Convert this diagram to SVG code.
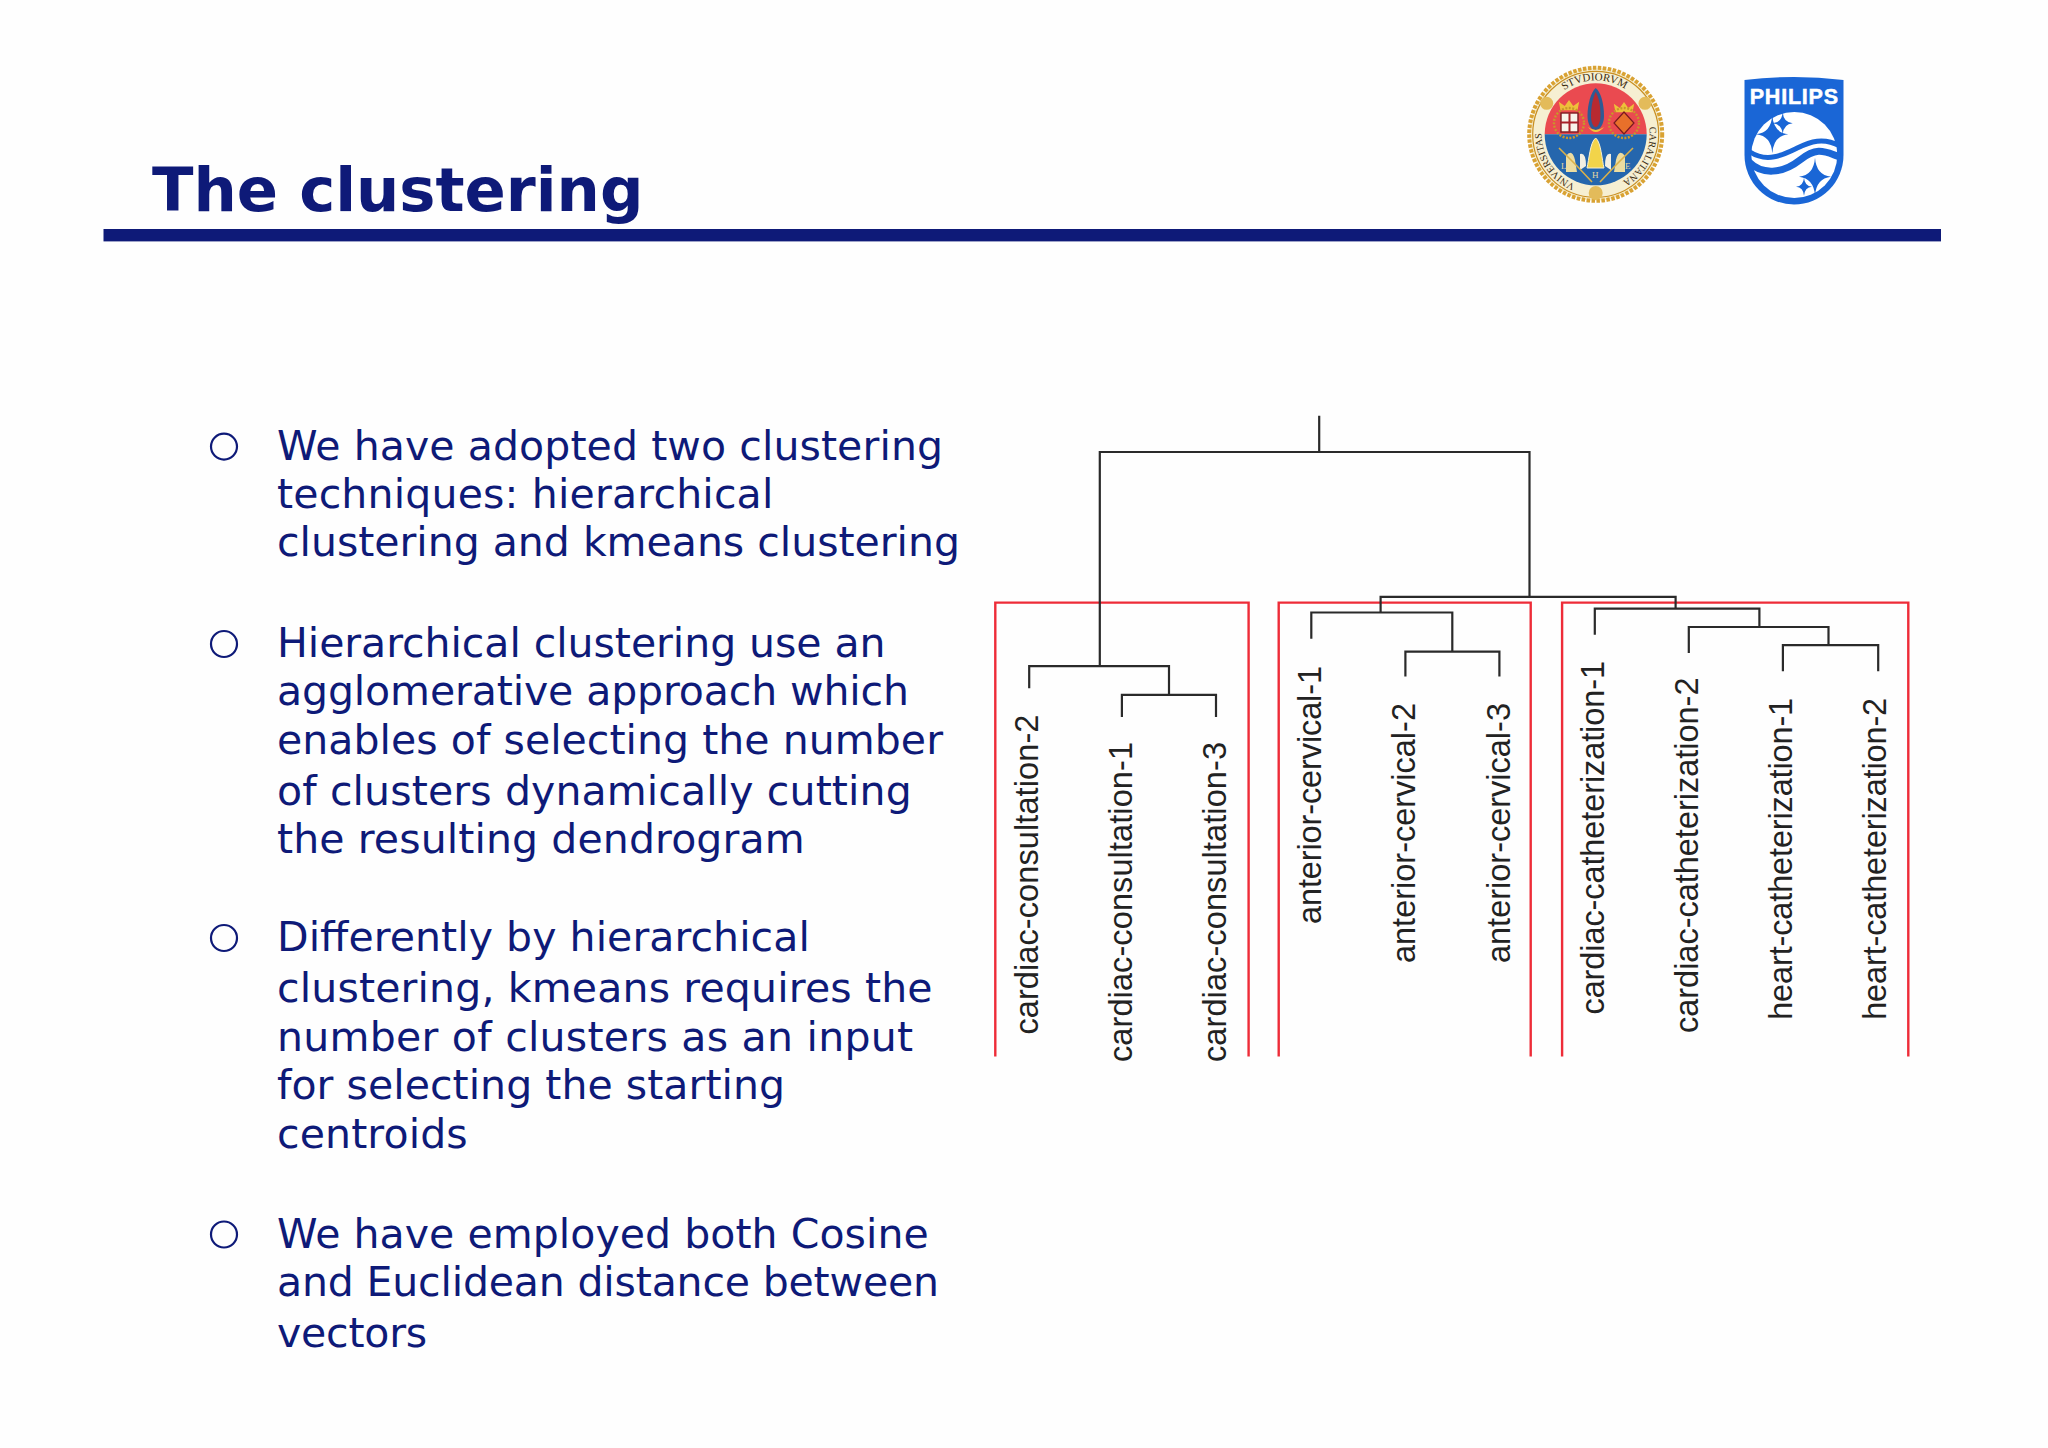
<svg xmlns="http://www.w3.org/2000/svg" xmlns:xlink="http://www.w3.org/1999/xlink" width="2048" height="1448" viewBox="0 0 2048 1448">
<style>
.title{font-family:"DejaVu Sans",sans-serif;font-weight:700;font-size:60.8px;fill:#0e1a78}
.body{font-family:"DejaVu Sans",sans-serif;font-size:41px;fill:#0e1a78}
.bul{fill:none;stroke:#0e1a78;stroke-width:2.2}
.lab{font-family:"Liberation Sans",Arial,sans-serif;font-size:32.5px;fill:#222}
.den{fill:none;stroke:#2a2a2a;stroke-width:2.2}
.red{fill:none;stroke:#ee2c38;stroke-width:2.4}
.seal{font-family:"Liberation Serif",serif;fill:#3a2a10}
.sl{font-family:"Liberation Serif",serif;font-size:9px;fill:#e8d9a0}
</style>
<defs>
<path id="star" d="M0,-1 Q.08,-.08 1,0 Q.08,.08 0,1 Q-.08,.08 -1,0 Q-.08,-.08 0,-1Z"/>
<path id="ringpath" d="M1595.7,188.3 A54,54 0 1 1 1595.7,80.3 A54,54 0 1 1 1595.7,188.3"/>
<path id="crown" d="M-10,5 L-12,-5 L-5,0 L0,-7 L5,0 L12,-5 L10,5Z"/>
</defs>
<rect width="2048" height="1448" fill="#fefefe"/>

<g id="header">
<text class="title" x="152" y="210.6">The clustering</text>
<rect x="103.5" y="229" width="1837.5" height="12.4" fill="#0e1a78"/>
</g>

<g id="seal-logo">
<circle cx="1595.7" cy="134.3" r="66.5" fill="#f6efd2" stroke="#d9a233" stroke-width="4" stroke-dasharray="3.5 1.5"/>
<circle cx="1595.7" cy="134.3" r="63" fill="none" stroke="#c98f22" stroke-width="1.2"/>
<path d="M1544.7,134.3 A51,51 0 0 1 1646.7,134.3Z" fill="#ea4a50"/>
<path d="M1544.7,134.3 A51,51 0 0 0 1646.7,134.3Z" fill="#2566ad"/>
<circle cx="1546.7" cy="103.3" r="6.5" fill="#e3bb5a"/>
<circle cx="1645" cy="103.3" r="6.5" fill="#e3bb5a"/>
<circle cx="1595.7" cy="193" r="7" fill="#e3bb5a"/>
<text class="seal" font-size="11"><textPath xlink:href="#ringpath" href="#ringpath" startOffset="40.1%">STVDIORVM</textPath></text>
<text class="seal" font-size="10"><textPath xlink:href="#ringpath" href="#ringpath" startOffset="6.2%">VNIVERSITAS</textPath></text>
<text class="seal" font-size="10"><textPath xlink:href="#ringpath" href="#ringpath" startOffset="72.8%">CARALITANA</textPath></text>
<path d="M1595.7,88 C1601,92 1604,104 1604,116 C1604,124 1600,130 1595.7,130 C1591,130 1587.5,124 1587.5,116 C1587.5,104 1591,92 1595.7,88Z" fill="#2f5a94"/>
<path d="M1595.7,92 C1599,98 1600.5,106 1600.5,116 C1600.5,122 1598,127 1595.7,127 C1593,127 1591,122 1591,116 C1591,106 1593,98 1595.7,92Z" fill="#b82a30"/>
<path d="M1588,127 Q1595.7,137 1604,127 Q1595.7,133 1588,127Z" fill="#f2c53a"/>
<use href="#crown" transform="translate(1569,106) scale(.85)" fill="#eec03a"/>
<use href="#crown" transform="translate(1624,108) scale(.85)" fill="#eec03a"/>
<circle cx="1569" cy="123" r="15" fill="none" stroke="#c9962a" stroke-width="2.4" stroke-dasharray="2 1.5"/>
<rect x="1561" y="113" width="17" height="19" fill="#f8f4ea" stroke="#7a1a20" stroke-width="1.4"/>
<path d="M1569.5,113 V132 M1561,122.5 H1578" stroke="#a82028" stroke-width="2"/>
<circle cx="1624" cy="123" r="15" fill="none" stroke="#c9962a" stroke-width="2.4" stroke-dasharray="2 1.5"/>
<path d="M1624,112 L1634,123 L1624,134 L1614,123Z" fill="#e8702a" stroke="#7a1a20" stroke-width="1.2"/>
<path d="M1595.7,138 C1590,142 1589,160 1587,168 H1604 C1602,160 1601,142 1595.7,138Z" fill="#f2d44a" stroke="#f6efd2" stroke-width="1"/>
<path d="M1580,154 Q1586,152 1586,166 L1580,170Z M1611,154 Q1605,152 1605,166 L1611,170Z" fill="#f2efe2"/>
<path d="M1566,156 Q1572,148 1575,160 L1577,172 H1566Z M1625,156 Q1619,148 1616,160 L1614,172 H1625Z" fill="#ecdca0"/>
<path d="M1559,148 L1577,166 M1633,148 L1615,166 M1577,166 L1592,182 M1615,166 L1600,182" stroke="#d9b04a" stroke-width="1.6" fill="none"/>
<text class="sl" x="1561" y="169">L</text>
<text class="sl" x="1625" y="169">E</text>
<text class="sl" x="1592" y="178">H</text>
</g>

<g id="philips-logo">
<path d="M1744.5,80 Q1794,74 1843.5,80 V155 A49.5,49.5 0 0 1 1744.5,155Z" fill="#1a66d6"/>
<text x="1794.3" y="104.3" text-anchor="middle" font-family="Liberation Sans,sans-serif" font-weight="700" font-size="21.5" letter-spacing=".8" stroke="#fff" stroke-width=".5" fill="#fff">PHILIPS</text>
<circle cx="1794.3" cy="155" r="43" fill="#fff"/>
<path d="M1750,152 C1767,163 1783,155 1796.7,148.3 S1823,137 1840,146" fill="none" stroke="#1a66d6" stroke-width="5"/>
<path d="M1749,162 C1762,175 1782,174 1800,160 S1825,152 1840,157" fill="none" stroke="#1a66d6" stroke-width="7"/>
<g fill="#1a66d6">
<use href="#star" transform="translate(1772.3,134.3) scale(16,19)"/>
<use href="#star" transform="translate(1782.7,123.3) scale(10,11)"/>
<use href="#star" transform="translate(1815,176.7) scale(16,19)"/>
<use href="#star" transform="translate(1804,186.7) scale(8,9)"/>
</g>
</g>

<g id="bullet-1">
<circle class="bul" cx="224" cy="446.6" r="13"/>
<text class="body" x="277" y="459.5" textLength="666">We have adopted two clustering</text>
<text class="body" x="277" y="508" textLength="496.3">techniques: hierarchical</text>
<text class="body" x="277" y="556.2" textLength="683">clustering and kmeans clustering</text>
</g>
<g id="bullet-2">
<circle class="bul" cx="224" cy="644" r="13"/>
<text class="body" x="277" y="656.9" textLength="608.6">Hierarchical clustering use an</text>
<text class="body" x="277" y="705.3" textLength="632">agglomerative approach which</text>
<text class="body" x="277" y="753.6" textLength="666">enables of selecting the number</text>
<text class="body" x="277" y="804.9" textLength="634.7">of clusters dynamically cutting</text>
<text class="body" x="277" y="853.2" textLength="527.6">the resulting dendrogram</text>
</g>
<g id="bullet-3">
<circle class="bul" cx="224" cy="938" r="13"/>
<text class="body" x="277" y="950.8" textLength="532.8">Differently by hierarchical</text>
<text class="body" x="277" y="1001.8" textLength="655.6">clustering, kmeans requires the</text>
<text class="body" x="277" y="1050.6" textLength="636">number of clusters as an input</text>
<text class="body" x="277" y="1098.5" textLength="508">for selecting the starting</text>
<text class="body" x="277" y="1148.1" textLength="190.7">centroids</text>
</g>
<g id="bullet-4">
<circle class="bul" cx="224" cy="1234.5" r="13"/>
<text class="body" x="277" y="1248" textLength="651.7">We have employed both Cosine</text>
<text class="body" x="277" y="1296" textLength="662">and Euclidean distance between</text>
<text class="body" x="277" y="1347.2" textLength="150.2">vectors</text>
</g>

<g id="clusters">
<path class="red" d="M995.3,1056.6 V602.6 H1248.6 V1056.6"/>
<path class="red" d="M1278.7,1056.6 V602.6 H1530.7 V1056.6"/>
<path class="red" d="M1562.1,1056.6 V602.6 H1908.3 V1056.6"/>
</g>

<g id="connectors">
<path class="den" d="M1319.2,415.7 V452 M1099.8,666.2 V452 H1529.5 V596.9"/>
<path class="den" d="M1029.2,688.3 V666.2 H1169 V694.8 M1121.9,717.1 V694.8 H1216 V717.1"/>
<path class="den" d="M1380.6,612.5 V596.9 H1675.6 V608.6"/>
<path class="den" d="M1311.3,638.7 V612.5 H1452.3 V651.7 M1405.4,676.5 V651.7 H1499.4 V676.5"/>
<path class="den" d="M1594.8,634.8 V608.6 H1759.4 V627 M1688.8,652.9 V627 H1828.5 V645.2 M1782.9,671.3 V645.2 H1878.2 V671.3"/>
</g>

<g id="leaf-cardiac-consultation-2"><text class="lab" transform="translate(1038,1034.6) rotate(-90)" textLength="320">cardiac-consultation-2</text></g>
<g id="leaf-cardiac-consultation-1"><text class="lab" transform="translate(1132,1062) rotate(-90)" textLength="320">cardiac-consultation-1</text></g>
<g id="leaf-cardiac-consultation-3"><text class="lab" transform="translate(1226,1062) rotate(-90)" textLength="320">cardiac-consultation-3</text></g>
<g id="leaf-anterior-cervical-1"><text class="lab" transform="translate(1321.4,924) rotate(-90)" textLength="258">anterior-cervical-1</text></g>
<g id="leaf-anterior-cervical-2"><text class="lab" transform="translate(1415.4,963) rotate(-90)" textLength="260">anterior-cervical-2</text></g>
<g id="leaf-anterior-cervical-3"><text class="lab" transform="translate(1509.5,963) rotate(-90)" textLength="260">anterior-cervical-3</text></g>
<g id="leaf-cardiac-catheterization-1"><text class="lab" transform="translate(1603.5,1014.5) rotate(-90)" textLength="353.5">cardiac-catheterization-1</text></g>
<g id="leaf-cardiac-catheterization-2"><text class="lab" transform="translate(1697.5,1033) rotate(-90)" textLength="355.5">cardiac-catheterization-2</text></g>
<g id="leaf-heart-catheterization-1"><text class="lab" transform="translate(1791.6,1019.8) rotate(-90)" textLength="322">heart-catheterization-1</text></g>
<g id="leaf-heart-catheterization-2"><text class="lab" transform="translate(1885.6,1019.8) rotate(-90)" textLength="322">heart-catheterization-2</text></g>
</svg>
